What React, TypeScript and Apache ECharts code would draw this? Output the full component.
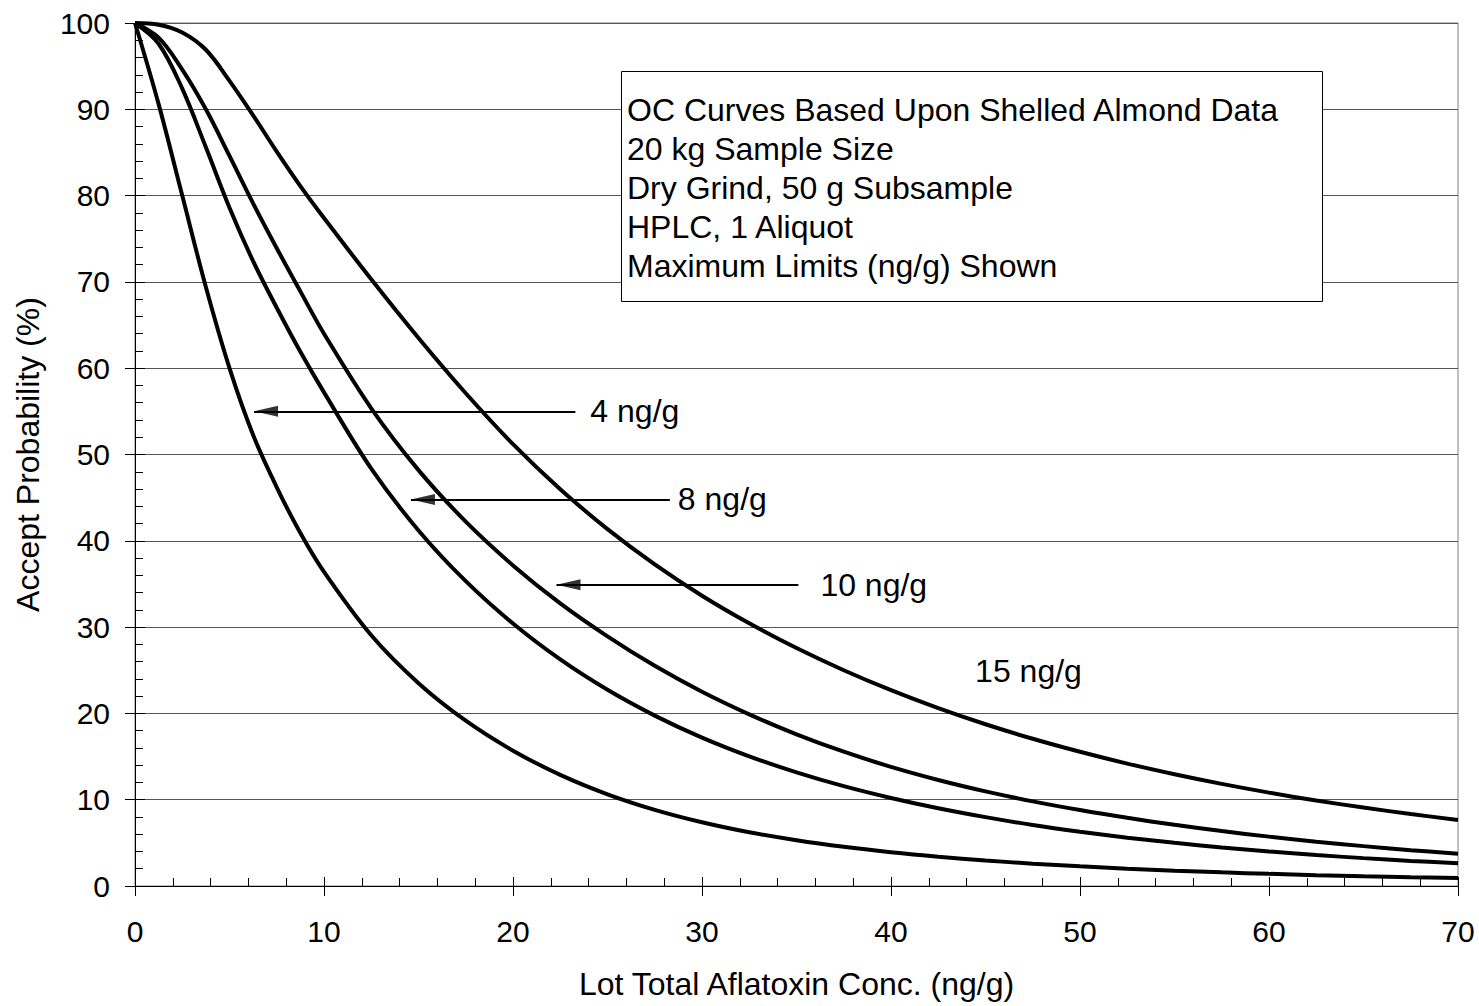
import { useEffect, useRef } from 'react';
import * as echarts from 'echarts';

// Lot total aflatoxin concentration (ng/g)
const concentration = [0, 1.25, 2.5, 3.75, 5, 6.25, 7.5, 8.75, 10, 12.5, 15, 17.5, 20, 22.5, 25, 27.5, 30, 32.5, 35, 37.5, 40, 42.5, 45, 47.5, 50, 52.5, 55, 57.5, 60, 62.5, 65, 67.5, 70];

// Acceptance probability (%) for each maximum limit
const accept4 = [100, 90.6, 80.0, 69.4, 60.0, 52.25, 46.2, 40.9, 36.4, 29.05, 23.5, 19.15, 15.68, 12.88, 10.63, 8.83, 7.39, 6.23, 5.3, 4.54, 3.92, 3.4, 2.96, 2.59, 2.28, 2.01, 1.78, 1.58, 1.41, 1.26, 1.13, 1.02, 0.93];
const accept8 = [100, 97.6, 92.4, 85.6, 78.6, 72.4, 67.0, 61.9, 57.2, 48.36, 41.2, 35.32, 30.41, 26.25, 22.73, 19.74, 17.19, 15.02, 13.17, 11.57, 10.2, 9.01, 7.98, 7.07, 6.29, 5.6, 5.0, 4.47, 4.0, 3.59, 3.23, 2.91, 2.63];
const accept10 = [100, 98.3, 94.6, 90.0, 84.6, 79.1, 73.9, 68.9, 64.0, 55.35, 48.19, 42.22, 37.15, 32.75, 28.93, 25.51, 22.51, 19.89, 17.58, 15.56, 13.8, 12.28, 10.96, 9.81, 8.8, 7.9, 7.09, 6.37, 5.72, 5.14, 4.62, 4.15, 3.74];
const accept15 = [100, 99.8, 98.9, 96.9, 93.3, 89.3, 85.1, 81.1, 77.4, 70.3, 63.5, 57.1, 51.2, 45.98, 41.35, 37.26, 33.64, 30.44, 27.57, 25.0, 22.69, 20.61, 18.74, 17.06, 15.55, 14.18, 12.95, 11.83, 10.82, 9.91, 9.09, 8.34, 7.66];

const seriesNames = ['4 ng/g', '8 ng/g', '10 ng/g', '15 ng/g'];
const seriesValues = [accept4, accept8, accept10, accept15];

// Arrowed limit labels: text, height (%), arrow tail and tip (ng/g), text gap (px)
const arrowLabels = ['4 ng/g', '8 ng/g', '10 ng/g'];
const arrowY = [55, 44.8, 34.9];
const arrowTailX = [23.3, 28.3, 35.1];
const arrowTipX = [6.3, 14.6, 22.3];
const arrowGap = [15, 8, 22];

// Free-standing limit label
const plainLabel = '15 ng/g';
const plainLabelPos = [44.45, 24.9];

const boxLines = [
  'OC Curves Based Upon Shelled Almond Data',
  '20 kg Sample Size',
  'Dry Grind, 50 g Subsample',
  'HPLC, 1 Aliquot',
  'Maximum Limits (ng/g) Shown',
];

const xTitle = 'Lot Total Aflatoxin Conc. (ng/g)';
const yTitle = 'Accept Probability (%)';

const xMin = 0, xMax = 70, xStep = 10;
const yMin = 0, yMax = 100, yStep = 10;

const FONT = "'Liberation Sans', Arial, sans-serif";
const TEXT_SIZE = 32;
const TICK_SIZE = 30;

export default function App() {
  const ref = useRef<HTMLDivElement>(null);

  useEffect(() => {
    if (!ref.current) return;
    const chart = echarts.init(ref.current, undefined, { renderer: 'svg' });

    const gridLeft = 135, gridRight = 21, gridTop = 23, gridBottom = 120;
    const W = 1479, H = 1006;
    const plotW = W - gridLeft - gridRight;
    const plotH = H - gridTop - gridBottom;

    const curves: any[] = seriesValues.map((vals, i) => ({
      type: 'line',
      name: seriesNames[i],
      data: concentration.map((c, j) => [c, vals[j]]),
      smooth: 0.35,
      showSymbol: false,
      symbol: 'none',
      lineStyle: { color: '#000', width: 4 },
      z: 5,
    }));

    curves[0].markLine = {
      silent: true,
      symbol: ['none', 'none'],
      lineStyle: { color: '#000', width: 2, type: 'solid' },
      label: {
        show: true,
        position: 'start',
        color: '#000',
        fontSize: TEXT_SIZE,
        fontFamily: FONT,
      },
      data: arrowLabels.map((t, i) => [
        { coord: [arrowTailX[i], arrowY[i]], label: { formatter: t, distance: arrowGap[i] } },
        { coord: [arrowTipX[i], arrowY[i]], label: { formatter: t, distance: arrowGap[i] } },
      ]),
    };
    curves[0].markPoint = {
      silent: true,
      symbol: 'circle',
      symbolSize: 0,
      label: {
        show: true,
        position: 'right',
        distance: 0,
        formatter: plainLabel,
        color: '#000',
        fontSize: TEXT_SIZE,
        fontFamily: FONT,
      },
      data: [{ coord: plainLabelPos }],
    };

    // Arrowheads at the tips of the label arrows, pointing left
    const arrowHeads = {
      type: 'scatter',
      name: 'arrowheads',
      silent: true,
      data: arrowTipX.map((x, i) => [x, arrowY[i]]),
      symbol: 'triangle',
      symbolSize: [11, 24],
      symbolRotate: 90,
      symbolOffset: [12, 0],
      itemStyle: { color: '#000' },
      z: 6,
    };

    const boxLeft = 621, boxTop = 71, boxW = 701, boxH = 230;

    chart.setOption({
      animation: false,
      backgroundColor: '#fff',
      textStyle: { fontFamily: FONT },
      grid: {
        left: gridLeft,
        right: gridRight,
        top: gridTop,
        bottom: gridBottom,
        show: true,
        borderColor: '#808080',
        borderWidth: 1,
        backgroundColor: 'transparent',
      },
      xAxis: [
        {
          type: 'value',
          min: xMin,
          max: xMax,
          interval: xStep,
          position: 'bottom',
          axisLine: { show: true, lineStyle: { color: '#000', width: 1 } },
          axisTick: { show: true, inside: false, length: 10, lineStyle: { color: '#000' } },
          minorTick: { show: false },
          splitLine: { show: false },
          axisLabel: { color: '#000', fontSize: TICK_SIZE, fontFamily: FONT, margin: 30 },
        },
        {
          // inner ticks along the bottom edge
          type: 'value',
          min: xMin,
          max: xMax,
          interval: xStep,
          position: 'top',
          offset: -plotH,
          axisLine: { show: false, onZero: false },
          axisTick: { show: true, length: 9, lineStyle: { color: '#000' } },
          minorTick: { show: true, splitNumber: 5, length: 8, lineStyle: { color: '#000' } },
          splitLine: { show: false },
          axisLabel: { show: false },
        },
      ],
      yAxis: [
        {
          type: 'value',
          min: yMin,
          max: yMax,
          interval: yStep,
          position: 'left',
          axisLine: { show: true, lineStyle: { color: '#000', width: 1 } },
          axisTick: { show: true, inside: false, length: 10, lineStyle: { color: '#000' } },
          minorTick: { show: false },
          splitLine: { show: true, lineStyle: { color: '#555', width: 1 } },
          axisLabel: { color: '#000', fontSize: TICK_SIZE, fontFamily: FONT, margin: 25 },
        },
        {
          // inner ticks along the left edge
          type: 'value',
          min: yMin,
          max: yMax,
          interval: yStep,
          position: 'right',
          offset: -plotW,
          axisLine: { show: false, onZero: false },
          axisTick: { show: true, length: 10, lineStyle: { color: '#000' } },
          minorTick: { show: true, splitNumber: 5, length: 8, lineStyle: { color: '#000' } },
          splitLine: { show: false },
          axisLabel: { show: false },
        },
      ],
      series: [...curves, arrowHeads],
      graphic: [
        {
          type: 'rect',
          left: boxLeft,
          top: boxTop,
          shape: { width: boxW, height: boxH },
          style: { fill: '#fff', stroke: '#000', lineWidth: 1 },
          z: 10,
        },
        ...boxLines.map((t, i) => ({
          type: 'text',
          x: boxLeft + 6,
          y: 110 + i * 39,
          style: {
            text: t,
            fill: '#000',
            font: `${TEXT_SIZE}px ${FONT}`,
            textAlign: 'left',
            textVerticalAlign: 'middle',
          },
          z: 11,
        })),
        {
          type: 'text',
          x: gridLeft + plotW / 2,
          y: 984,
          style: {
            text: xTitle,
            fill: '#000',
            font: `${TEXT_SIZE}px ${FONT}`,
            textAlign: 'center',
            textVerticalAlign: 'middle',
          },
          z: 11,
        },
        {
          type: 'text',
          x: 28,
          y: gridTop + plotH / 2,
          rotation: Math.PI / 2,
          style: {
            text: yTitle,
            fill: '#000',
            font: `${TEXT_SIZE}px ${FONT}`,
            textAlign: 'center',
            textVerticalAlign: 'middle',
          },
          z: 11,
        },
      ],
    });

    return () => {
      chart.dispose();
    };
  }, []);

  return (
    <div
      ref={ref}
      style={{ position: 'absolute', left: 0, top: 0, width: 1479, height: 1006 }}
    />
  );
}
